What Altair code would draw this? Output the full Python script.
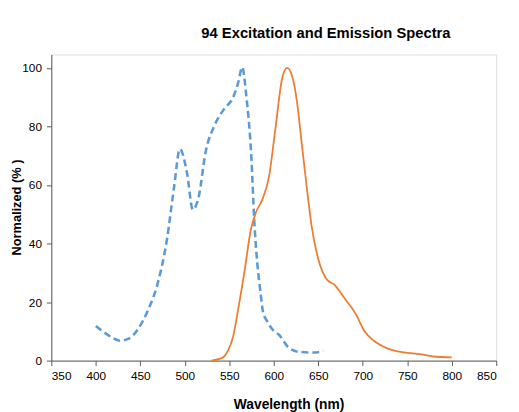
import altair as alt
import pandas as pd

# Excitation (blue dashed)
ex_wl = [400, 410, 420, 427, 437, 447, 458, 469, 480, 488, 494.5, 502.6, 509, 516, 523, 534, 545, 554, 560, 564.6, 569, 575, 578, 581.7, 585, 588, 592.5, 600, 605.5, 616.6, 628, 640, 648, 655.5]
ex_val = [11.8, 9.5, 7.6, 6.8, 7.5, 10.6, 16.8, 25.8, 41.5, 59.4, 72.3, 63.9, 51.6, 56.5, 70.6, 80.7, 86.3, 89.7, 95.0, 100.3, 90.8, 68.4, 48.2, 32.5, 23.5, 16.5, 13.5, 10.1, 8.9, 4.5, 3.0, 2.8, 2.8, 3.4]

# Emission (orange solid)
em_wl = [530, 543, 548.5, 554, 559.6, 567, 574.3, 579.8, 587, 594.6, 602, 609.4, 615, 620.5, 626, 631.5, 637, 642.6, 650, 659, 668.6, 679.6, 692.6, 701.8, 712.8, 727.6, 746, 764.5, 779, 800]
em_val = [0, 1.1, 3.4, 7.8, 16.8, 30.3, 44.8, 50.5, 54.9, 62.8, 79.6, 96.4, 100, 97.3, 88.6, 74, 59.4, 45.9, 34.7, 28, 25.8, 21.3, 15.7, 10.1, 6.7, 4.2, 2.8, 2.2, 1.4, 1.1]

x_ticks = [350, 400, 450, 500, 550, 600, 650, 700, 750, 800, 850]
y_ticks = [0, 20, 40, 60, 80, 100]

ex = pd.DataFrame({"wl": ex_wl, "val": ex_val})
em = pd.DataFrame({"wl": em_wl, "val": em_val})

font = "Liberation Sans, Arial, sans-serif"

xenc = alt.X("wl:Q",
             scale=alt.Scale(domain=[350, 850], nice=False, zero=False),
             axis=alt.Axis(values=x_ticks, title="Wavelength (nm)", grid=False,
                           domainColor="#595959", tickColor="#595959", tickSize=5,
                           labelFont=font, labelFontSize=12, labelColor="#000",
                           labelPadding=5, titleFont=font, titleFontSize=14,
                           titleFontWeight="bold", titleColor="#000",
                           titleX=241, titleY=45, titleBaseline="middle"))
yenc = alt.Y("val:Q",
             scale=alt.Scale(domain=[0, 104.6], nice=False),
             axis=alt.Axis(values=y_ticks, title="Normalized (% )", grid=False,
                           domainColor="#595959", tickColor="#595959", tickSize=5,
                           labelFont=font, labelFontSize=12, labelColor="#000",
                           labelPadding=5, titleFont=font,
                           titleFontSize=13, titleFontWeight="bold", titleColor="#000",
                           titleX=-35, titleY=155, titleBaseline="middle",
                           titleAlign="center", titleAngle=270))

l1 = alt.Chart(ex).mark_line(color="#5B9BD5", strokeWidth=2.6, strokeDash=[7, 4],
                             interpolate="monotone").encode(x=xenc, y=yenc)
l2 = alt.Chart(em).mark_line(color="#ED7D31", strokeWidth=1.8,
                             interpolate="monotone").encode(x=xenc, y=yenc)

chart = alt.layer(l1, l2).properties(
    width=452, height=311,
    autosize=alt.AutoSizeParams(type="none"),
    padding={"left": 44, "top": 44, "right": 15, "bottom": 49},
    title=alt.TitleParams("94 Excitation and Emission Spectra", font=font,
                          fontSize=15, fontWeight="bold", color="#000",
                          anchor="middle", dx=53, offset=14),
).configure_view(stroke="#8c8c8c", strokeWidth=1.2).configure(background="white")

chart.save("out.html", embed_options={"renderer": "svg", "actions": False})
